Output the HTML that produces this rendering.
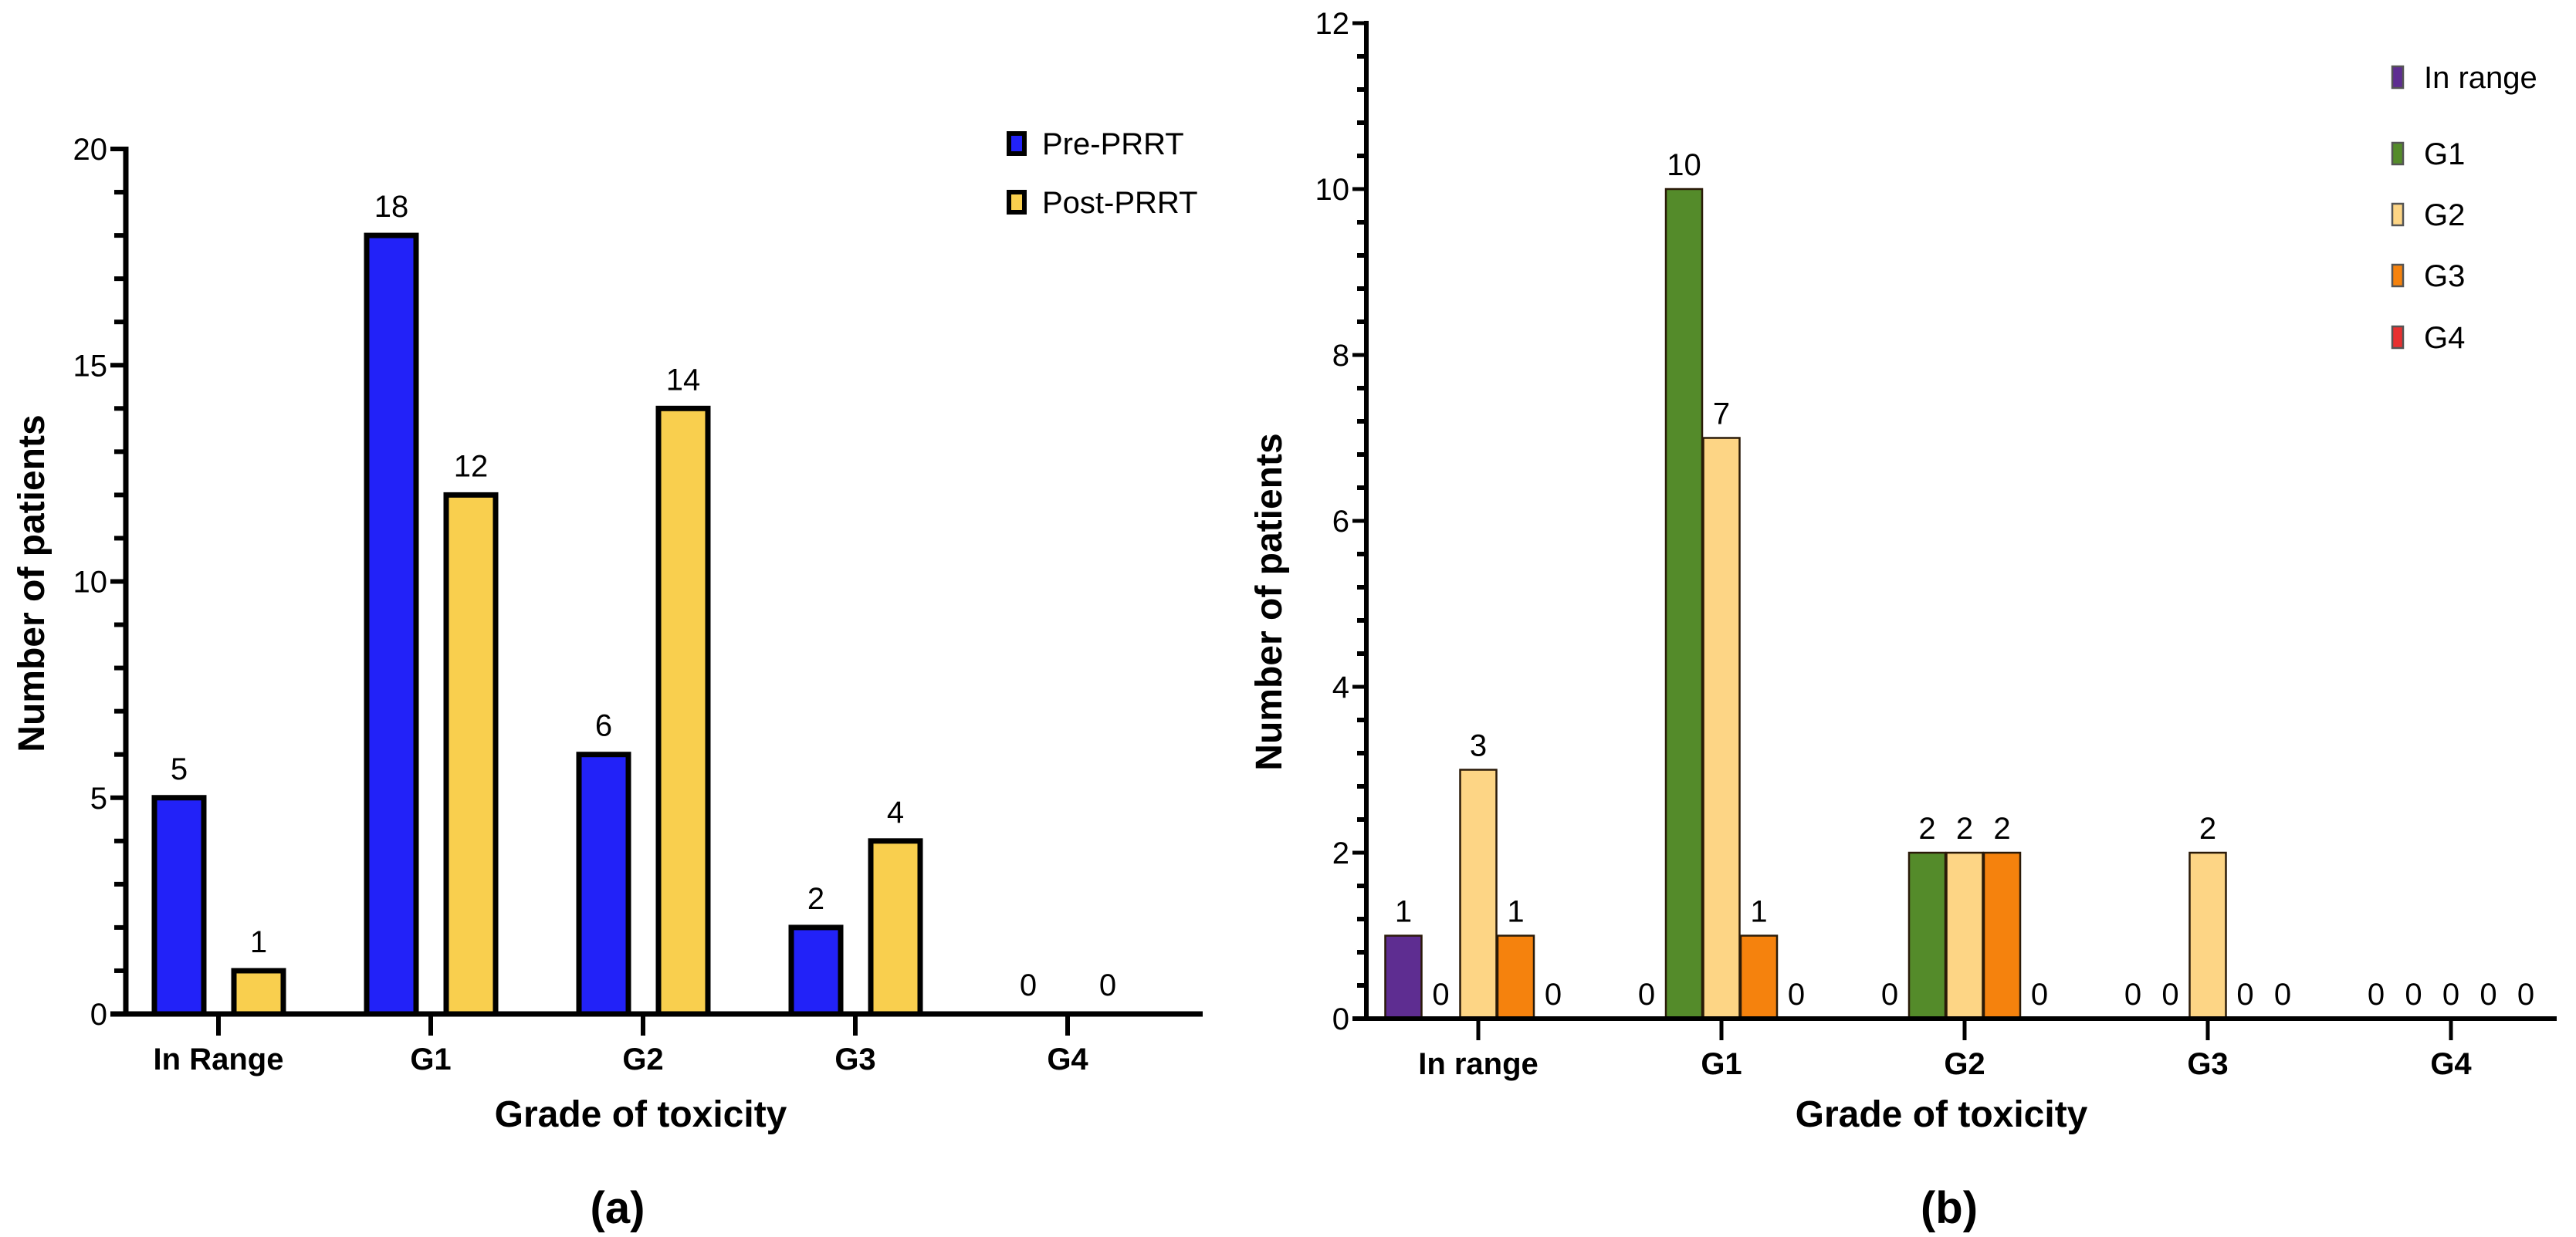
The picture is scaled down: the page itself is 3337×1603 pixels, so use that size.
<!DOCTYPE html>
<html><head><meta charset="utf-8"><style>
html,body{margin:0;padding:0;background:#fff;}
svg{display:block;font-family:"Liberation Sans",Arial,sans-serif;}
</style></head><body>
<svg id="fig" width="3337" height="1603" viewBox="0 0 3337 1603" xmlns="http://www.w3.org/2000/svg">
<rect width="3337" height="1603" fill="#fff"/>
<g id="chartA"></g>
<g id="chartB"></g>
</svg>
<script>
const catsA = ["In Range","G1","G2","G3","G4"];
const preA = [5,18,6,2,0];
const postA = [1,12,14,4,0];
const seriesA = ["Pre-PRRT","Post-PRRT"];
const yTicksA = [0,5,10,15,20];

const catsB = ["In range","G1","G2","G3","G4"];
const seriesB = ["In range","G1","G2","G3","G4"];
const inRangeB = [1,0,0,0,0];
const g1B = [0,10,2,0,0];
const g2B = [3,7,2,2,0];
const g3B = [1,1,2,0,0];
const g4B = [0,0,0,0,0];
const yTicksB = [0,2,4,6,8,10,12];

const NS="http://www.w3.org/2000/svg";
function mk(parent,tag,attrs,text){const e=document.createElementNS(NS,tag);for(const k in attrs)e.setAttribute(k,attrs[k]);if(text!==undefined)e.textContent=text;parent.appendChild(e);return e;}

// ---------- Chart A ----------
(function(){
const g=document.getElementById('chartA');
const y0=1314, yTop=193, vmax=20, ax=163;
const yA=v=>y0-(y0-yTop)*v/vmax;
const xA=i=>283+275*i;
// minor ticks
for(let v=0;v<=vmax;v++){
  const t=mk(g,'line',{x1:ax-(v%5===0?20:15),x2:ax,y1:yA(v),y2:yA(v),stroke:'#000','stroke-width':6});
  
  
}
yTicksA.forEach(v=>{
  const t=mk(g,'text',{x:ax-24,y:yA(v)+14,'font-size':40,'text-anchor':'end'},String(v));
  
  
});
const cols=['#2222f8','#f9cf4e'];
const data=[preA,postA];
catsA.forEach((c,i)=>{
  [0,1].forEach(s=>{
    const v=data[s][i]; const cx=xA(i)+(s===0?-51:52);
    if(v>0){
      const r=mk(g,'rect',{x:cx-32,y:yA(v),width:64,height:y0-yA(v),fill:cols[s],stroke:'#000','stroke-width':7});
      
      
    }
    const l=mk(g,'text',{x:cx,y:yA(v)-24,'font-size':40,'text-anchor':'middle'},String(v));
    
    
  });
  const tk=mk(g,'line',{x1:xA(i),x2:xA(i),y1:y0,y2:y0+28,stroke:'#000','stroke-width':6});
  
  
  const tl=mk(g,'text',{x:xA(i),y:y0+72,'font-size':40,'font-weight':'bold','text-anchor':'middle'},c);
  
  
});
const yl=mk(g,'line',{x1:ax,x2:ax,y1:yTop-3,y2:y0+3,stroke:'#000','stroke-width':7});


const xl=mk(g,'line',{x1:ax-20,x2:1558,y1:y0,y2:y0,stroke:'#000','stroke-width':7});


const xt=mk(g,'text',{x:830,y:1460,'font-size':48,'font-weight':'bold','text-anchor':'middle'},'Grade of toxicity');


const yt=mk(g,'text',{x:0,y:0,'font-size':48,'font-weight':'bold','text-anchor':'middle',transform:'translate(57,756) rotate(-90)'},'Number of patients');


const pl=mk(g,'text',{x:800,y:1585,'font-size':58,'font-weight':'bold','text-anchor':'middle'},'(a)');


seriesA.forEach((s,k)=>{
  const yy=[186,262][k];
  const sw=mk(g,'rect',{x:1307,y:yy-13,width:20,height:26,fill:cols[k],stroke:'#000','stroke-width':6});
  
  
  const lt=mk(g,'text',{x:1350,y:yy+14,'font-size':40},s);
  
  
});
})();

// ---------- Chart B ----------
(function(){
const g=document.getElementById('chartB');
const y0=1320, yTop=30, vmax=12, ax=1770;
const yB=v=>y0-(y0-yTop)*v/vmax;
const xB=i=>1915+315*i;
for(let k=0;k<=30;k++){
  const v=k*0.4;
  const maj=(k%5===0);
  const t=mk(g,'line',{x1:ax-(maj?18:12),x2:ax,y1:yB(v),y2:yB(v),stroke:'#000','stroke-width':maj?5:6});
  
  
}
yTicksB.forEach(v=>{
  const t=mk(g,'text',{x:ax-22,y:yB(v)+14,'font-size':40,'text-anchor':'end'},String(v));
  
  
});
const cols=['#5e2d91','#548b2a','#fdd585','#f5820d','#e83030'];
const data=[inRangeB,g1B,g2B,g3B,g4B];
catsB.forEach((c,i)=>{
  for(let s=0;s<5;s++){
    const v=data[s][i]; const cx=xB(i)+(s-2)*48.5;
    if(v>0){
      const r=mk(g,'rect',{x:cx-23.5,y:yB(v),width:47,height:y0-yB(v),fill:cols[s],stroke:'#2a1a08','stroke-width':2.5});
      
      
    }
    const l=mk(g,'text',{x:cx,y:yB(v)-18,'font-size':40,'text-anchor':'middle'},String(v));
    
    
  }
  const tk=mk(g,'line',{x1:xB(i),x2:xB(i),y1:y0,y2:y0+28,stroke:'#000','stroke-width':5});
  
  
  const tl=mk(g,'text',{x:xB(i),y:y0+72,'font-size':40,'font-weight':'bold','text-anchor':'middle'},c);
  
  
});
const yl=mk(g,'line',{x1:ax,x2:ax,y1:yTop-3,y2:y0+3,stroke:'#000','stroke-width':6});


const xl=mk(g,'line',{x1:ax-18,x2:3312,y1:y0,y2:y0,stroke:'#000','stroke-width':6});


const xt=mk(g,'text',{x:2515,y:1460,'font-size':48,'font-weight':'bold','text-anchor':'middle'},'Grade of toxicity');


const yt=mk(g,'text',{x:0,y:0,'font-size':48,'font-weight':'bold','text-anchor':'middle',transform:'translate(1660,780) rotate(-90)'},'Number of patients');


const pl=mk(g,'text',{x:2525,y:1585,'font-size':58,'font-weight':'bold','text-anchor':'middle'},'(b)');


const ly=[100,199,278,357,437];
seriesB.forEach((s,k)=>{
  const sw=mk(g,'rect',{x:3099,y:ly[k]-14,width:14,height:28,fill:cols[k],stroke:'#555','stroke-width':2.5});
  
  
  const lt=mk(g,'text',{x:3140,y:ly[k]+14,'font-size':40},s);
  
  
});
})();
</script>
</body></html>
